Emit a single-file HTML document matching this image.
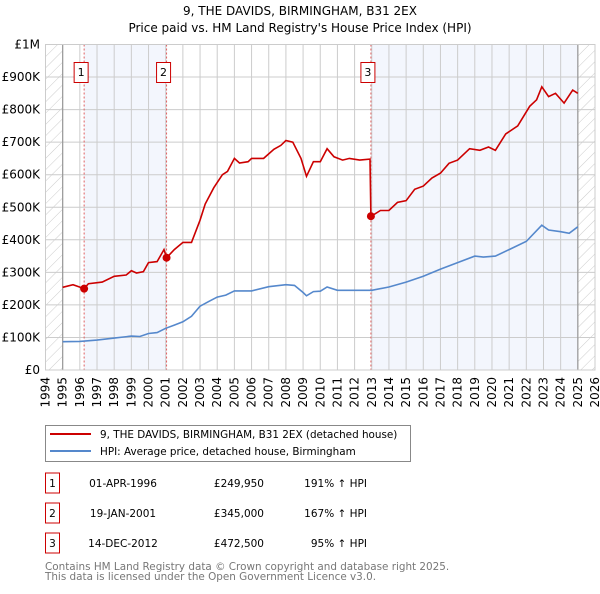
<!DOCTYPE html>
<html><head><meta charset="utf-8"><style>
body{margin:0;background:#fff;font-family:"DejaVu Sans","Liberation Sans",sans-serif;}
svg text{font-family:"DejaVu Sans","Liberation Sans",sans-serif;}
</style></head><body>
<svg id="c" width="600" height="590" viewBox="0 0 600 590" xmlns="http://www.w3.org/2000/svg">
<defs>
<pattern id="hatch" width="8" height="8" patternUnits="userSpaceOnUse" patternTransform="rotate(45)">
<line x1="0" y1="0" x2="0" y2="8" stroke="#ccc" stroke-width="1"/></pattern>
</defs>
<text x="300" y="15" text-anchor="middle" font-size="12">9, THE DAVIDS, BIRMINGHAM, B31 2EX</text>
<text x="300" y="32" text-anchor="middle" font-size="12">Price paid vs. HM Land Registry's House Price Index (HPI)</text>
<g id="plot"></g>
<g>
<rect x="45.5" y="425.5" width="365" height="36" fill="#fff" stroke="#888"/>
<line x1="50" y1="434" x2="91" y2="434" stroke="#cc0000" stroke-width="2"/>
<text x="100" y="438" font-size="10.4">9, THE DAVIDS, BIRMINGHAM, B31 2EX (detached house)</text>
<line x1="50" y1="451" x2="91" y2="451" stroke="#5588cc" stroke-width="2"/>
<text x="100" y="455" font-size="10.4">HPI: Average price, detached house, Birmingham</text>
</g>
<g id="table"></g>
<text x="45" y="570" font-size="10.4" fill="#777">Contains HM Land Registry data © Crown copyright and database right 2025.</text>
<text x="45" y="580" font-size="10.4" fill="#777">This data is licensed under the Open Government Licence v3.0.</text>
</svg>
<script>
const hpiYears=[1995,1996,1997,1998,1999,1999.5,2000,2000.5,2001,2001.5,2002,2002.5,2003,2003.5,2004,2004.5,2005,2006,2007,2008,2008.5,2009,2009.2,2009.6,2010,2010.4,2011,2012,2013,2014,2015,2016,2017,2018,2019,2019.5,2020.2,2021,2022,2022.9,2023.3,2024,2024.5,2025];
const hpiValues=[87,88,92,98,104,103,112,115,128,138,148,165,196,210,224,230,243,243,256,262,260,238,228,241,242,255,245,245,245,255,270,288,310,330,350,347,350,370,395,445,430,425,420,440];
const propYears=[1995,1995.6,1996.25,1996.5,1997.3,1998,1998.7,1999,1999.3,1999.7,2000,2000.5,2000.9,2001.05,2001.5,2002,2002.5,2003,2003.3,2003.8,2004.3,2004.6,2005,2005.3,2005.8,2006,2006.7,2007.3,2007.7,2008,2008.4,2008.88,2009.2,2009.6,2010,2010.4,2010.8,2011.3,2011.7,2012.3,2012.9,2012.95,2013.5,2014,2014.5,2015,2015.5,2016,2016.5,2017,2017.5,2018,2018.7,2019.3,2019.8,2020.2,2020.8,2021.5,2022.2,2022.6,2022.9,2023.3,2023.7,2024.2,2024.7,2025];
const propValues=[254,262,250,265,270,288,292,305,298,302,330,333,370,345,370,392,392,460,510,560,600,610,650,636,640,650,650,678,690,705,700,650,595,640,640,680,655,645,650,645,648,472,490,490,515,520,555,565,590,605,635,645,680,675,685,675,725,750,810,830,870,840,850,820,860,850];
const saleIds=["1","2","3"];
const saleYears=[1996.25,2001.05,2012.95];
const saleValues=[249.95,345,472.5];
const saleDates=["01-APR-1996","19-JAN-2001","14-DEC-2012"];
const salePrices=["£249,950","£345,000","£472,500"];
const saleHpi=["191% ↑ HPI","167% ↑ HPI","95% ↑ HPI"];
const yTicks=[0,100,200,300,400,500,600,700,800,900,1000];
const yTickLabels=["£0","£100K","£200K","£300K","£400K","£500K","£600K","£700K","£800K","£900K","£1M"];

const NS="http://www.w3.org/2000/svg";
const X0=45.5,X1=595,Y0=370,Y1=44.5;
const xs=y=>X0+(y-1994)/32*(X1-X0);
const ys=v=>Y0-v/1000*(Y0-Y1);
const plot=document.getElementById('plot');
function mk(tag,attrs,parent){const e=document.createElementNS(NS,tag);for(const k in attrs)e.setAttribute(k,attrs[k]);(parent||plot).appendChild(e);return e;}

let s1=mk('rect',{x:xs(saleYears[0]),y:Y1,width:xs(saleYears[1])-xs(saleYears[0]),height:Y0-Y1,fill:'#f3f6fd'});


let s2=mk('rect',{x:xs(saleYears[2]),y:Y1,width:xs(2025)-xs(saleYears[2]),height:Y0-Y1,fill:'#f3f6fd'});


let h1=mk('rect',{x:X0,y:Y1,width:xs(1995)-X0,height:Y0-Y1,fill:'url(#hatch)'});


let h2=mk('rect',{x:xs(2025),y:Y1,width:X1-xs(2025),height:Y0-Y1,fill:'url(#hatch)'});



for(let i=0;i<yTicks.length;i++){
  const y=ys(yTicks[i]);
  let g=mk('line',{x1:X0,x2:X1,y1:y,y2:y,stroke:'#ccc','stroke-width':1});
  
  
  let t=mk('text',{x:40,y:y+4,'text-anchor':'end','font-size':12});
  
  
  t.textContent=yTickLabels[i];
}
for(let yr=1994;yr<=2026;yr++){
  const x=xs(yr);
  let g=mk('line',{x1:x,x2:x,y1:Y1,y2:Y0,stroke:'#ccc','stroke-width':1});
  
  
  let t=mk('text',{x:0,y:0,'text-anchor':'end','font-size':12,transform:`translate(${x+4},377) rotate(-90)`});
  
  
  t.textContent=String(yr);
}
let ax=mk('line',{x1:xs(1995),x2:xs(1995),y1:Y1,y2:Y0,stroke:'#999','stroke-width':1.2});


let ax2=mk('line',{x1:xs(2025),x2:xs(2025),y1:Y1,y2:Y0,stroke:'#999','stroke-width':1.2});



for(let i=0;i<saleYears.length;i++){
  const x=xs(saleYears[i]);
  let l=mk('line',{x1:x,x2:x,y1:Y1,y2:Y0,stroke:'#e06060','stroke-width':1,'stroke-dasharray':'2,2'});
  
  
  let b=mk('rect',{x:x-10,y:62.5,width:14,height:20,fill:'#fff',stroke:'#cc0000','stroke-width':1});
  
  
  let t=mk('text',{x:x-3,y:76,'text-anchor':'middle','font-size':11});
  
  
  t.textContent=saleIds[i];
}

function path(xa,va){return xa.map((y,i)=>(i?'L':'M')+xs(y).toFixed(1)+','+ys(va[i]).toFixed(1)).join('');}
let hp=mk('path',{d:path(hpiYears,hpiValues),fill:'none',stroke:'#5588cc','stroke-width':1.6});


let pp=mk('path',{d:path(propYears,propValues),fill:'none',stroke:'#cc0000','stroke-width':1.6});


for(let i=0;i<saleYears.length;i++){
  let c=mk('circle',{cx:xs(saleYears[i]),cy:ys(saleValues[i]),r:4,fill:'#cc0000'});
  
  
}
let fr=mk('rect',{x:X0,y:Y1,width:X1-X0,height:Y0-Y1,fill:'none',stroke:'#ccc'});



const tb=document.getElementById('table');
for(let i=0;i<saleIds.length;i++){
  const cy=483+i*30;
  let b=mk('rect',{x:45.5,y:cy-10,width:14,height:20,fill:'#fff',stroke:'#cc0000'},tb);
  
  
  const cells=[[52.5,saleIds[i],'middle'],[123,saleDates[i],'middle'],[264,salePrices[i],'end'],[367,saleHpi[i],'end']];
  for(const [x,txt,anc] of cells){
    let t=mk('text',{x:x,y:cy+4,'text-anchor':anc,'font-size':10.5},tb);
    
    
    t.textContent=txt;
  }
}
</script>
</body></html>
